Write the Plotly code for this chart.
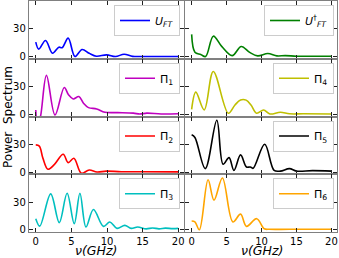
import plotly.graph_objects as go

# ---- data (frequency in GHz, power spectrum) ----
uft_x = [0, 0.42, 1.37, 2.35, 3.24, 3.7, 4.55, 5.5, 6.5, 7.5, 8.5, 9.95, 11.2, 12.4, 13.6, 15, 17, 20]
uft_y = [15.5, 8, 17.4, 3.6, 10.1, 9.5, 19.9, 0, 7.6, 3.5, 0.3, 1.8, 0, 2.5, 0.2, 0, 0, 0]

uftd_x = [0, 0.47, 1.3, 2.0, 3.1, 4.3, 5.8, 7.1, 8.3, 9.45, 10.9, 12.2, 13.4, 15, 17, 20]
uftd_y = [23.9, 4.7, 2.2, 0, 22, 11, 1, 10.9, 4.5, 0.7, 3.3, 0.7, 1, 0.3, 0.3, 0.3]

p1_x = [0, 0.25, 0.66, 1.5, 2.7, 4.0, 4.6, 5.25, 6.05, 6.7, 7.4, 8.55, 9.7, 11.5, 13.7, 14.6, 15.6, 17.6, 20]
p1_y = [4.7, -12, -2.6, 42, -0.8, 29, 21, 16.6, 19.1, 12, 7.2, 5.8, 2.2, 1.8, 1.2, 0.3, 1.2, 0.3, 0.5]

p4_x = [0, 0.6, 1.8, 3.1, 5.25, 6.2, 7.0, 7.8, 8.5, 9.3, 10.3, 11.2, 12.7, 14, 16, 20]
p4_y = [5.4, 23.9, 4.7, 46.3, 1.1, 10, 15.5, 15.3, 10, 1.1, 4.7, 0.3, 2.2, 0.5, 0.5, 0.3]

p2_x = [0, 0.5, 1.0, 1.7, 2.6, 3.85, 4.55, 5.35, 6.4, 7.5, 8.6, 9.9, 12, 15, 20]
p2_y = [29.3, 28, 15, 3, 8, 19.2, 10.2, 14.9, -1.4, 2.2, 0, 1.0, 0.3, 0.3, 0.2]

p5_x = [0, 0.47, 1.95, 3.6, 4.5, 5.35, 6.05, 7.0, 7.85, 8.4, 8.8, 10.45, 11.8, 12.7, 14.0, 15.0, 17.3, 20]
p5_y = [40.2, 37.4, 3.7, 56, 8.4, 15.6, 1.8, 18.5, 5.4, 5.4, 4, 30, 1.8, 1, 3.7, 1, 1.5, 1]

p3_x = [0, 0.56, 2.1, 3.3, 4.4, 5.4, 6.2, 7.05, 8.1, 9.5, 10.4, 11.4, 12.5, 13.4, 14.3, 15.5, 16.4, 17.3, 18.2, 19.2, 20]
p3_y = [12, 4, 38.8, 7.7, 39.4, 6.6, 39.4, 3, 21.9, 3.7, 8.4, 1.5, 4.8, 1.5, 3, 1, 2, 1, 1.8, 1.2, 1.5]

p6_x = [0, 0.47, 1.1, 2.35, 3.2, 4.4, 5.9, 7.0, 7.85, 9.3, 10.4, 11.1, 14, 20]
p6_y = [9.5, 8.5, 0, 54, 32, 56, 8.5, 16.9, 3.7, 12, 1.1, 0.5, 0.5, 0.5]

names = ["<i>U</i><sub><i>FT</i></sub>", "<i>U</i><sup>†</sup><sub><i>FT</i></sub>",
         "Π<sub>1</sub>", "Π<sub>4</sub>",
         "Π<sub>2</sub>", "Π<sub>5</sub>",
         "Π<sub>3</sub>", "Π<sub>6</sub>"]
series = [(uft_x, uft_y), (uftd_x, uftd_y), (p1_x, p1_y), (p4_x, p4_y),
          (p2_x, p2_y), (p5_x, p5_y), (p3_x, p3_y), (p6_x, p6_y)]
colors = ["#0000ff", "#008000", "#bf00bf", "#bfbf00", "#ff0000", "#000000", "#00bfbf", "#ffa500"]
xticks = [0, 5, 10, 15, 20]
yticks = [0, 30]

W, H = 339, 258
ML, MR, MT, MB = 29, 2, 1, 26
PW, PH = W - ML - MR, H - MT - MB

col_dom = [[0, 0.503], [0.5065, 1]]
row_dom = [[0.75, 1], [0.5, 0.75], [0.25, 0.5], [0, 0.25]]

fig = go.Figure()
layout = {}
for i, ((xs, ys), nm, c) in enumerate(zip(series, names, colors)):
    r, cidx = divmod(i, 2)
    n = i + 1
    xa = "x" if n == 1 else f"x{n}"
    ya = "y" if n == 1 else f"y{n}"
    lg = "legend" if n == 1 else f"legend{n}"
    fig.add_trace(go.Scatter(x=xs, y=ys, mode="lines", name=nm,
                             line=dict(color=c, width=1.6, shape="spline", smoothing=1.0),
                             xaxis=xa, yaxis=ya, legend=lg, showlegend=True))
    axcommon = dict(showline=True, linecolor="#808080", linewidth=1.3, mirror="ticks",
                    ticks="inside", ticklen=4, tickwidth=1, tickcolor="#222",
                    showgrid=False, zeroline=False,
                    tickfont=dict(size=10, color="black", family="DejaVu Sans"))
    layout["xaxis" if n == 1 else f"xaxis{n}"] = dict(
        axcommon, domain=col_dom[cidx], anchor=ya, range=[-0.95, 20.8],
        tickvals=xticks, showticklabels=(r == 3))
    layout["yaxis" if n == 1 else f"yaxis{n}"] = dict(
        axcommon, domain=row_dom[r], anchor=xa, range=[-2.4, 60],
        tickvals=yticks, showticklabels=(cidx == 0))
    top_px = MT + r * PH / 4 + 4
    lx = (180 - ML) / PW if cidx == 0 else (334 - ML) / PW
    layout[lg] = dict(x=lx, y=1 - (top_px - MT) / PH, xanchor="right", yanchor="top",
                      bgcolor="white", bordercolor="#cccccc", borderwidth=1,
                      font=dict(size=11, color="black", family="DejaVu Sans"),
                      itemwidth=30, tracegroupgap=0)

fig.update_layout(**layout)
fig.update_layout(
    width=W, height=H, margin=dict(l=ML, r=MR, t=MT, b=MB),
    plot_bgcolor="white", paper_bgcolor="white",
    font=dict(family="DejaVu Sans", color="black"),
    annotations=[
        dict(text="Power\u00a0 Spectrum", x=(8 - ML) / PW, y=1 - (117 - MT) / PH,
             xref="paper", yref="paper", showarrow=False, textangle=-90,
             xanchor="center", yanchor="middle",
             font=dict(size=12, color="black")),
        dict(text="<i>ν(GHz)</i>", x=(96 - ML) / PW, y=1 - (250.5 - MT) / PH,
             xref="paper", yref="paper", showarrow=False, xanchor="center", yanchor="middle",
             font=dict(size=12.5, color="black")),
        dict(text="<i>ν(GHz)</i>", x=(262 - ML) / PW, y=1 - (250.5 - MT) / PH,
             xref="paper", yref="paper", showarrow=False, xanchor="center", yanchor="middle",
             font=dict(size=12.5, color="black")),
    ],
)
fig.write_html("out.html", config={"displayModeBar": False},
               post_script="document.body.style.margin='0';document.body.style.overflow='hidden';")
